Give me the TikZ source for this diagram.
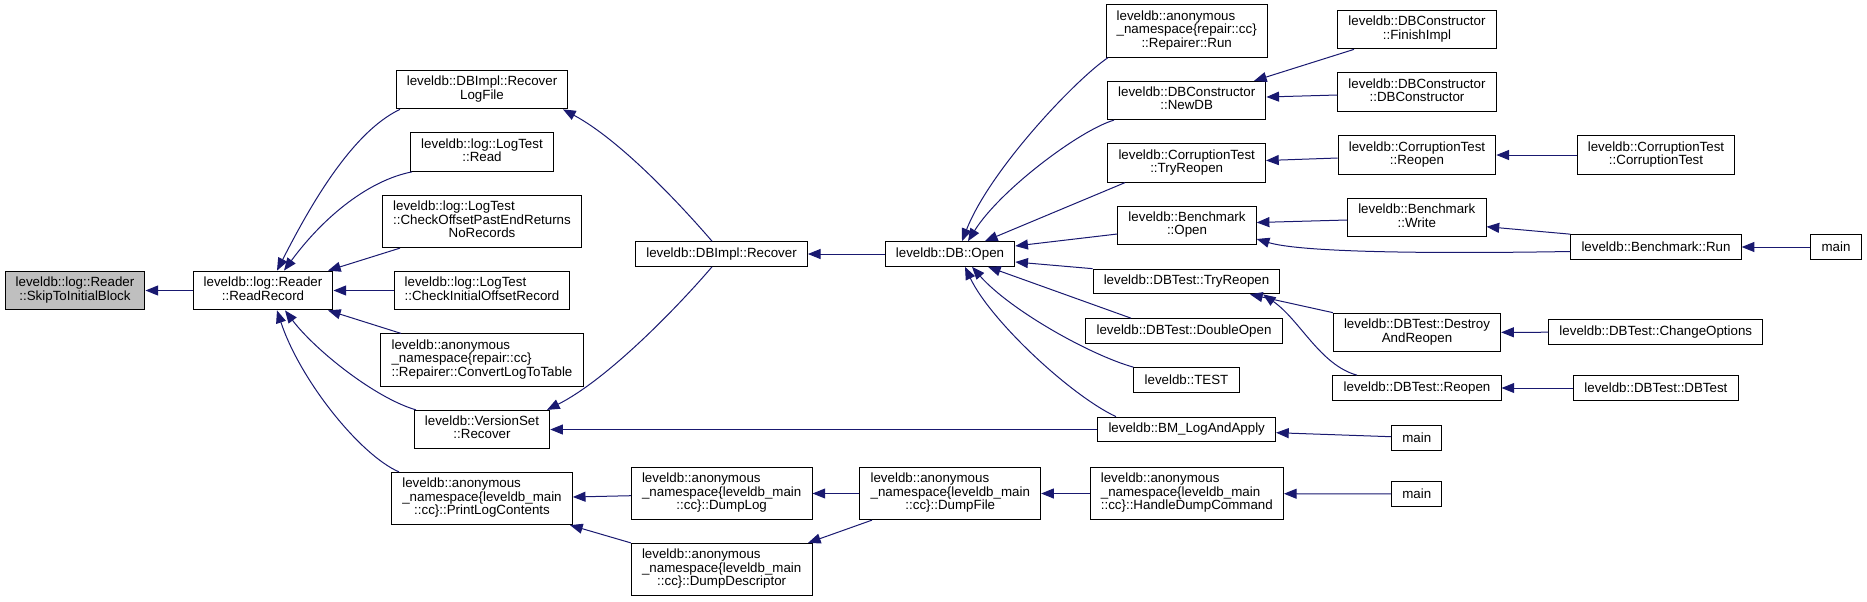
\documentclass[tikz,border=0pt]{standalone}
\usepackage{fontspec}
\setmainfont{Liberation Sans}
\usetikzlibrary{arrows.meta}
\definecolor{edgeblue}{HTML}{191970}
\begin{document}
\begin{tikzpicture}[
        x=0.75pt,
        y=-0.75pt,
        every node/.style={font=\fontsize{10}{9.6}\selectfont},
        fn/.style={draw, line width=0.75pt, inner xsep=8pt, inner ysep=4.4pt, minimum height=18.5pt},
        call/.style={draw=edgeblue, line width=0.75pt, -{Triangle[length=9.5pt,width=7.5pt]}}
      ]

      % --- 1. label macro: left lines, last line centred ---
      \def\twol#1#2{\begin{tabular}{@{}l@{}}#1\\\multicolumn{1}{@{}c@{}}{#2}\end{tabular}}

      \useasboundingbox (0,0) rectangle (1867,601);

      % --- 2. functions ---
      % column 1, 2
      \node[fn, fill=gray!50] (skip) at (75,290.5) {\twol{leveldb::log::Reader}{::SkipToInitialBlock}};
      \node[fn] (rr) at (263,290.5) {\twol{leveldb::log::Reader}{::ReadRecord}};

      % column 3
      \node[fn] (rlf) at (482,89.5) {\twol{leveldb::DBImpl::Recover}{LogFile}};
      \node[fn] (read) at (482,152) {\twol{leveldb::log::LogTest}{::Read}};
      \node[fn] (cop) at (482,221.5) {\twol{leveldb::log::LogTest\\::CheckOffsetPastEndReturns}{NoRecords}};
      \node[fn] (cior) at (482,290.5) {\twol{leveldb::log::LogTest}{::CheckInitialOffsetRecord}};
      \node[fn] (cltt) at (482,360) {\twol{leveldb::anonymous\\\_namespace\{repair::cc\}}{::Repairer::ConvertLogToTable}};
      \node[fn] (vsr) at (482,429.5) {\twol{leveldb::VersionSet}{::Recover}};
      \node[fn] (plc) at (482,498.5) {\twol{leveldb::anonymous\\\_namespace\{leveldb\_main}{::cc\}::PrintLogContents}};

      % column 4
      \node[fn] (dbr) at (721.5,254) {leveldb::DBImpl::Recover};
      \node[fn] (dlog) at (721.7,493.5) {\twol{leveldb::anonymous\\\_namespace\{leveldb\_main}{::cc\}::DumpLog}};
      \node[fn] (ddesc) at (721.7,569.5) {\twol{leveldb::anonymous\\\_namespace\{leveldb\_main}{::cc\}::DumpDescriptor}};

      % column 5
      \node[fn] (dbo) at (950,254) {leveldb::DB::Open};
      \node[fn] (dfile) at (950.3,493.5) {\twol{leveldb::anonymous\\\_namespace\{leveldb\_main}{::cc\}::DumpFile}};

      % column 6
      \node[fn] (run) at (1186.7,31) {\twol{leveldb::anonymous\\\_namespace\{repair::cc\}}{::Repairer::Run}};
      \node[fn] (newdb) at (1186.7,100.5) {\twol{leveldb::DBConstructor}{::NewDB}};
      \node[fn] (cttr) at (1186.7,163) {\twol{leveldb::CorruptionTest}{::TryReopen}};
      \node[fn] (bo) at (1187,225.5) {\twol{leveldb::Benchmark}{::Open}};
      \node[fn] (dttr) at (1186.5,281.5) {leveldb::DBTest::TryReopen};
      \node[fn] (dopen) at (1184,331) {leveldb::DBTest::DoubleOpen};
      \node[fn] (test) at (1186.5,380) {leveldb::TEST};
      \node[fn] (bm) at (1186.7,429.5) {leveldb::BM\_LogAndApply};
      \node[fn] (hdc) at (1186.8,493.5) {\twol{leveldb::anonymous\\\_namespace\{leveldb\_main}{::cc\}::HandleDumpCommand}};

      % column 7
      \node[fn] (fin) at (1417,29.5) {\twol{leveldb::DBConstructor}{::FinishImpl}};
      \node[fn] (dbc) at (1417,92) {\twol{leveldb::DBConstructor}{::DBConstructor}};
      \node[fn] (ctr) at (1417,155) {\twol{leveldb::CorruptionTest}{::Reopen}};
      \node[fn] (bw) at (1416.8,217.5) {\twol{leveldb::Benchmark}{::Write}};
      \node[fn] (dar) at (1417,332.5) {\twol{leveldb::DBTest::Destroy}{AndReopen}};
      \node[fn] (dtr) at (1417,388) {leveldb::DBTest::Reopen};
      \node[fn] (mainb) at (1416.8,438) {main};
      \node[fn] (mainh) at (1416.8,494) {main};

      % column 8, 9
      \node[fn] (ctct) at (1656,155) {\twol{leveldb::CorruptionTest}{::CorruptionTest}};
      \node[fn] (brun) at (1656,247) {leveldb::Benchmark::Run};
      \node[fn] (chg) at (1655.8,332) {leveldb::DBTest::ChangeOptions};
      \node[fn] (dbt) at (1655.9,388) {leveldb::DBTest::DBTest};
      \node[fn] (mainr) at (1836,247) {main};

      % --- 3. calls into ReadRecord ---
      \draw[call] (rr) -- (skip);
      \draw[call] (400,0 |- rlf.south) .. controls (350,133) and (307,212) .. (277,0 |- rr.north);
      \draw[call] (412,0 |- read.south) .. controls (370,180) and (325,215) .. (284,0 |- rr.north);
      \draw[call] (400,0 |- cop.south) -- (328,0 |- rr.north);
      \draw[call] (cior) -- (rr);
      \draw[call] (401,0 |- cltt.north) -- (328,0 |- rr.south);
      \draw[call] (416,0 |- vsr.north) .. controls (375,398) and (315,350) .. (285,0 |- rr.south);
      \draw[call] (399,0 |- plc.north) .. controls (360,455) and (300,380) .. (277,0 |- rr.south);

      % --- 4. DBImpl::Recover, VersionSet ---
      \draw[call] (712,0 |- dbr.north) .. controls (680,204) and (620,140) .. (563,0 |- rlf.south);
      \draw[call] (712,0 |- dbr.south) .. controls (682,302) and (610,378) .. (547,0 |- vsr.north);
      \draw[call] (bm) -- (vsr);
      \draw[call] (dbo) -- (dbr);

      % --- 5. calls into DB::Open ---
      \draw[call] (1108,0 |- run.south) .. controls (1075,80) and (990,170) .. (962,0 |- dbo.north);
      \draw[call] (1114,0 |- newdb.south) .. controls (1080,130) and (1000,190) .. (968,0 |- dbo.north);
      \draw[call] (1125,0 |- cttr.south) -- (985,0 |- dbo.north);
      \draw[call] (bo.west |- 0,234) -- (dbo.east |- 0,246);
      \draw[call] (dttr.north west) -- (dbo.east |- 0,262);
      \draw[call] (1131,0 |- dopen.north) -- (988,0 |- dbo.south);
      \draw[call] (test.north west) .. controls (1090,355) and (1010,310) .. (972,0 |- dbo.south);
      \draw[call] (1116,0 |- bm.north) .. controls (1070,395) and (990,320) .. (965,0 |- dbo.south);

      % --- 6. right hand callers ---
      \draw[call] (1354,0 |- fin.south) -- (1254,0 |- newdb.north);
      \draw[call] (dbc.west |- 0,95) -- (newdb.east |- 0,97);
      \draw[call] (ctr.west |- 0,158) -- (cttr.east |- 0,160.5);
      \draw[call] (ctct) -- (ctr);
      \draw[call] (bw.west |- 0,220) -- (bo.east |- 0,222.5);
      \draw[call] (brun.west |- 0,251.5) .. controls (1420,254) and (1300,252) .. (bo.east |- 0,239);
      \draw[call] (brun.north west) -- (bw.east |- 0,226.7);
      \draw[call] (mainr) -- (brun);
      \draw[call] (dar.north west) -- (1250,0 |- dttr.south);
      \draw[call] (1357,0 |- dtr.north) .. controls (1320,365) and (1300,320) .. (1263,0 |- dttr.south);
      \draw[call] (chg) -- (dar);
      \draw[call] (dbt) -- (dtr);
      \draw[call] (mainb.west |- 0,436.7) -- (bm.east |- 0,432.7);

      % --- 7. dump commands ---
      \draw[call] (mainh) -- (hdc);
      \draw[call] (hdc) -- (dfile);
      \draw[call] (dfile) -- (dlog);
      \draw[call] (872,0 |- dfile.south) -- (808,0 |- ddesc.north);
      \draw[call] (dlog.west |- 0,495.7) -- (plc.east |- 0,497);
      \draw[call] (ddesc.north west) -- (570,0 |- plc.south);

    \end{tikzpicture}
\end{document}
